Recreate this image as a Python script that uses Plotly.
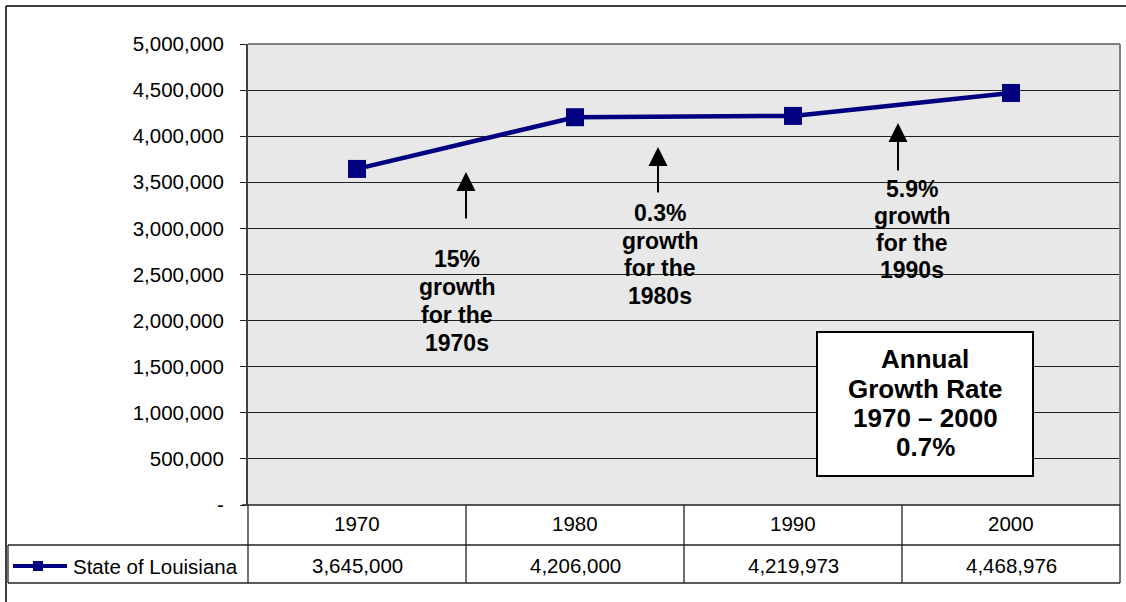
import plotly.graph_objects as go

years = ["1970", "1980", "1990", "2000"]
population = [3645000, 4206000, 4219973, 4468976]
series_name = "State of Louisiana"
y_tickvals = [0, 500000, 1000000, 1500000, 2000000, 2500000, 3000000, 3500000, 4000000, 4500000, 5000000]
y_ticktext = ["-", "500,000", "1,000,000", "1,500,000", "2,000,000", "2,500,000",
              "3,000,000", "3,500,000", "4,000,000", "4,500,000", "5,000,000"]
growth_notes = ["15%", "growth", "for the", "1970s"]
growth_notes_80 = ["0.3%", "growth", "for the", "1980s"]
growth_notes_90 = ["5.9%", "growth", "for the", "1990s"]
box_lines = ["Annual", "Growth Rate", "1970 – 2000", "0.7%"]

W, H = 1126, 602
L, R, T, B = 248, 1120, 44, 505
FONT = "Arial, Liberation Sans, sans-serif"
NAVY = "#000080"


def px(x):
    return (x - L) / (R - L)


def py(y):
    return (B - y) / (B - T)


fig = go.Figure()
fig.add_trace(go.Scatter(
    x=years, y=population, mode="lines+markers", name=series_name,
    line=dict(color=NAVY, width=4.5),
    marker=dict(symbol="square", size=18, color=NAVY),
    showlegend=False, hoverinfo="skip",
))

shapes = []
annotations = []

# outer border
shapes.append(dict(type="line", xref="paper", yref="paper", x0=px(6), x1=px(1130), y0=py(6), y1=py(6),
                   line=dict(color="black", width=1.5)))
shapes.append(dict(type="line", xref="paper", yref="paper", x0=px(6), x1=px(6), y0=py(6), y1=py(606),
                   line=dict(color="black", width=1.5)))
# plot border top/right
shapes.append(dict(type="line", xref="paper", yref="paper", x0=0, x1=1, y0=1, y1=1,
                   line=dict(color="#808080", width=2)))
shapes.append(dict(type="line", xref="paper", yref="paper", x0=1, x1=1, y0=0, y1=1,
                   line=dict(color="#808080", width=2)))

# data table
col_w = (R - L) / len(years)
row1_top, row1_bot, row2_bot = 505, 545, 583
line_style = dict(color="#222222", width=1.3)
shapes.append(dict(type="line", xref="paper", yref="paper", x0=px(242), x1=px(R), y0=py(row1_top), y1=py(row1_top), line=line_style))
for yy in (row1_bot, row2_bot):
    shapes.append(dict(type="line", xref="paper", yref="paper", x0=px(8), x1=px(R), y0=py(yy), y1=py(yy), line=line_style))
shapes.append(dict(type="line", xref="paper", yref="paper", x0=px(8), x1=px(8), y0=py(row1_bot), y1=py(row2_bot), line=line_style))
for i in range(len(years) + 1):
    xx = L + i * col_w
    shapes.append(dict(type="line", xref="paper", yref="paper", x0=px(xx), x1=px(xx), y0=py(row1_top), y1=py(row2_bot), line=line_style))

for i, (yr, val) in enumerate(zip(years, population)):
    cx = L + (i + 0.5) * col_w
    annotations.append(dict(xref="paper", yref="paper", x=px(cx), y=py(523), text=yr, showarrow=False,
                            font=dict(family=FONT, size=20.5, color="black"), xanchor="center", yanchor="middle"))
    annotations.append(dict(xref="paper", yref="paper", x=px(cx), y=py(565), text=f"{val:,}", showarrow=False,
                            font=dict(family=FONT, size=20.5, color="black"), xanchor="center", yanchor="middle"))

# legend key in table
shapes.append(dict(type="line", xref="paper", yref="paper", x0=px(13), x1=px(67), y0=py(566), y1=py(566),
                   line=dict(color=NAVY, width=4)))
shapes.append(dict(type="rect", xref="paper", yref="paper", x0=px(33), x1=px(43), y0=py(561), y1=py(571),
                   fillcolor=NAVY, line=dict(width=0)))
annotations.append(dict(xref="paper", yref="paper", x=px(71), y=py(566), text=series_name, showarrow=False,
                        font=dict(family=FONT, size=20.5, color="black"), xanchor="left", yanchor="middle"))

# arrows
for (ax_x, tip, tail) in [(466, 172, 220), (658, 147, 194), (898, 123, 172)]:
    annotations.append(dict(xref="paper", yref="paper", x=px(ax_x), y=py(tip), ax=0, ay=tail - tip,
                            text="", showarrow=True, arrowhead=2, arrowsize=1.9, arrowwidth=2,
                            arrowcolor="black", standoff=0))

# growth notes
for lines, cx, ys in [(growth_notes, 457, [259, 287, 315, 343]),
                      (growth_notes_80, 660, [213, 241, 268, 296]),
                      (growth_notes_90, 912, [189, 216, 243, 270])]:
    for t, yy in zip(lines, ys):
        annotations.append(dict(xref="paper", yref="paper", x=px(cx), y=py(yy), text=f"<b>{t}</b>",
                                showarrow=False, font=dict(family=FONT, size=23, color="black"),
                                xanchor="center", yanchor="middle"))

# growth rate box
shapes.append(dict(type="rect", xref="paper", yref="paper", x0=px(817), x1=px(1033), y0=py(332), y1=py(476),
                   fillcolor="white", line=dict(color="black", width=2)))
for t, yy in zip(box_lines, [359, 389, 418, 447]):
    annotations.append(dict(xref="paper", yref="paper", x=px(925), y=py(yy), text=f"<b>{t}</b>",
                            showarrow=False, font=dict(family=FONT, size=26, color="black"),
                            xanchor="center", yanchor="middle"))

fig.update_layout(
    width=W, height=H,
    margin=dict(l=L, r=W - R, t=T, b=H - B),
    paper_bgcolor="white",
    plot_bgcolor="#e8e8e8",
    shapes=shapes,
    annotations=annotations,
    showlegend=False,
    xaxis=dict(type="category", range=[-0.5, 3.5], showticklabels=False, showgrid=False,
               zeroline=False, showline=False, ticks=""),
    yaxis=dict(range=[0, 5000000], tickvals=y_tickvals, ticktext=y_ticktext,
               showgrid=True, gridcolor="#222222", gridwidth=1, zeroline=False,
               showline=True, linecolor="#404040", linewidth=2,
               ticks="outside", ticklen=6, tickcolor="#222222",
               ticklabelstandoff=12,
               tickfont=dict(family=FONT, size=20.5, color="black")),
)

fig.write_html("out.html", config={"displayModeBar": False},
               post_script="document.body.style.margin='0';document.body.style.overflow='hidden';")
